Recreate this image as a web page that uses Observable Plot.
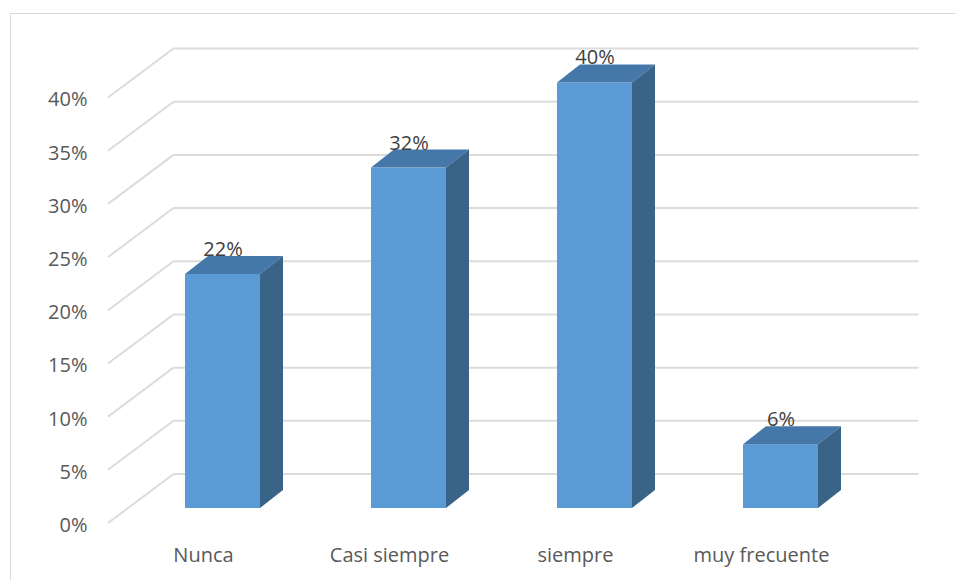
<!DOCTYPE html>
<html><head><meta charset="utf-8">
<script src="https://cdn.jsdelivr.net/npm/d3@7"></script>
<script src="https://cdn.jsdelivr.net/npm/@observablehq/plot@0.6"></script>
<style>
body{margin:0;background:#fff;}
#wrap{position:relative;width:956px;height:580px;overflow:hidden;}
#border{position:absolute;left:10px;top:13px;width:960px;height:580px;border-left:1.5px solid #d9d9d9;border-top:1.5px solid #d9d9d9;}
#chart{position:absolute;left:0;top:0;}
</style></head><body>
<div id="wrap"><div id="border"></div><div id="chart"></div></div>
<script>
const categories = ["Nunca", "Casi siempre", "siempre", "muy frecuente"];
const values = [0.22, 0.32, 0.40, 0.06];
const valueLabels = ["22%", "32%", "40%", "6%"];
const yTicks = [0, 0.05, 0.10, 0.15, 0.20, 0.25, 0.30, 0.35, 0.40];

const data = categories.map((c, i) => ({cat: c, value: values[i], label: valueLabels[i]}));

// pseudo-3D depth offsets (styling)
const BACK = {dx: 45, dy: -34};
const FRONT = {dx: -20.5, dy: 15};
const BAR = {dx: 23, dy: -18};
const colors = {front: "#5b9bd5", top: "#4677a9", side: "#3a6388", grid: "#dcdcdc"};

function wallRender(index, scales, vals, dims) {
  const g = d3.create("svg:g");
  const L = dims.marginLeft, R = dims.width - dims.marginRight;
  for (const i of index) {
    const y = scales.y(yTicks[i]);
    g.append("line")
      .attr("x1", L + BACK.dx).attr("x2", R + BACK.dx)
      .attr("y1", y + BACK.dy).attr("y2", y + BACK.dy)
      .attr("stroke", colors.grid).attr("stroke-width", 2);
    g.append("line")
      .attr("x1", L + FRONT.dx).attr("y1", y + FRONT.dy)
      .attr("x2", L + BACK.dx).attr("y2", y + BACK.dy)
      .attr("stroke", colors.grid).attr("stroke-width", 2);
  }
  return g.node();
}

function barRender(index, scales) {
  const g = d3.create("svg:g");
  const sx = scales.x, sy = scales.y;
  const bw = typeof sx.bandwidth === "function" ? sx.bandwidth() : scales.scales.x.bandwidth;
  for (const i of index) {
    const d = data[i];
    const x0 = sx(d.cat), x1 = x0 + bw;
    const yt = sy(d.value), yb = sy(0);
    g.append("rect").attr("x", x0).attr("y", yt).attr("width", bw).attr("height", yb - yt)
      .attr("fill", colors.front);
    g.append("polygon")
      .attr("points", [[x0, yt], [x0 + BAR.dx, yt + BAR.dy], [x1 + BAR.dx, yt + BAR.dy], [x1, yt]].map(p => p.join(",")).join(" "))
      .attr("fill", colors.top);
    g.append("polygon")
      .attr("points", [[x1, yt], [x1 + BAR.dx, yt + BAR.dy], [x1 + BAR.dx, yb + BAR.dy], [x1, yb]].map(p => p.join(",")).join(" "))
      .attr("fill", colors.side);
  }
  return g.node();
}

const chart = Plot.plot({
  width: 956,
  height: 580,
  marginLeft: 128.5,
  marginRight: 82.5,
  marginTop: 20,
  marginBottom: 72,
  style: {fontFamily: "'Open Sans', sans-serif", fontSize: "20px", background: "transparent", overflow: "visible"},
  x: {domain: categories, paddingInner: 0.597, paddingOuter: 0.2985, label: null},
  y: {domain: [0, 0.4], range: [508, 82.5], label: null},
  marks: [
    Plot.ruleY(yTicks, {y: d => d, render: wallRender}),
    Plot.barY(data, {x: "cat", y: "value", render: barRender}),
    Plot.text(data, {x: "cat", y: "value", text: "label", dy: -25, fill: "#404040", fontSize: 20}),
    Plot.axisY({ticks: yTicks, tickSize: 0, tickPadding: 41.5, dy: 17, tickFormat: d3.format(".0%"), fontSize: 20, color: "#595959", label: null}),
    Plot.axisX({tickSize: 0, tickPadding: 39, dx: -19.5, fontSize: 20, color: "#595959", label: null})
  ]
});
document.getElementById("chart").appendChild(chart);
</script>
</body></html>
